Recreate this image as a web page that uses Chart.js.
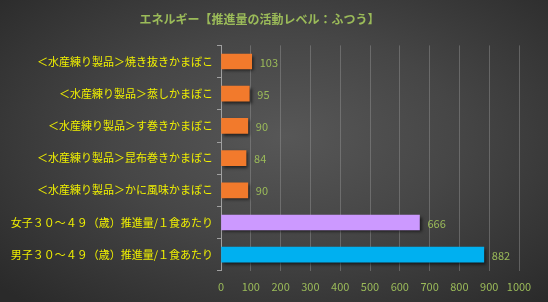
<!DOCTYPE html>
<html>
<head>
<meta charset="utf-8">
<script src="https://cdn.jsdelivr.net/npm/chart.js@4"></script>
<style>
    html, body { margin: 0; padding: 0; }
    body {
        width: 548px;
        height: 302px;
        overflow: hidden;
        background: radial-gradient(ellipse 70% 75% at 52% 45%, #575757 0%, #464646 45%, #2a2a2a 100%);
    }
    #wrap { position: relative; width: 548px; height: 302px; }
</style>
</head>
<body>
<div id="wrap"><canvas id="energyChart"></canvas></div>
<script>
const chartTitle = 'エネルギー【推進量の活動レベル：ふつう】';
const categories = [
    '＜水産練り製品＞焼き抜きかまぼこ',
    '＜水産練り製品＞蒸しかまぼこ',
    '＜水産練り製品＞す巻きかまぼこ',
    '＜水産練り製品＞昆布巻きかまぼこ',
    '＜水産練り製品＞かに風味かまぼこ',
    '女子３０～４９（歳）推進量/１食あたり',
    '男子３０～４９（歳）推進量/１食あたり'
];
const energyValues = [103, 95, 90, 84, 90, 666, 882];
const barColors = ['#f27a2c', '#f27a2c', '#f27a2c', '#f27a2c', '#f27a2c', '#cc99ff', '#00b0f0'];
const xTicks = [0, 100, 200, 300, 400, 500, 600, 700, 800, 900, 1000];

const jpFont = '"Noto Sans CJK JP", "Noto Sans", sans-serif';

// shadow under the bars
const barShadow = {
    id: 'barShadow',
    beforeDatasetsDraw(chart) {
        const ctx = chart.ctx;
        ctx.save();
        ctx.shadowColor = 'rgba(0,0,0,0.6)';
        ctx.shadowBlur = 3;
        ctx.shadowOffsetX = 2;
        ctx.shadowOffsetY = 2;
    },
    afterDatasetsDraw(chart) {
        chart.ctx.restore();
    }
};

// value labels to the right of each bar
const valueLabels = {
    id: 'valueLabels',
    afterDatasetsDraw(chart) {
        const ctx = chart.ctx;
        const meta = chart.getDatasetMeta(0);
        ctx.save();
        ctx.font = '11px ' + jpFont;
        ctx.fillStyle = '#9bbb59';
        ctx.textAlign = 'left';
        ctx.textBaseline = 'middle';
        meta.data.forEach((bar, i) => {
            ctx.fillText(String(energyValues[i]), bar.x + 8, bar.y + 1);
        });
        ctx.restore();
    }
};

new Chart(document.getElementById('energyChart').getContext('2d'), {
    type: 'bar',
    data: {
        labels: categories,
        datasets: [{
            data: energyValues,
            backgroundColor: barColors,
            borderWidth: 0,
            barThickness: 15
        }]
    },
    options: {
        indexAxis: 'y',
        responsive: true,
        maintainAspectRatio: false,
        animation: false,
        layout: {
            padding: { left: 0, right: 29, top: 0, bottom: 0 }
        },
        plugins: {
            legend: { display: false },
            tooltip: { enabled: false },
            title: {
                display: true,
                text: chartTitle,
                color: '#9bbb59',
                font: { family: jpFont, size: 12, weight: 'bold' },
                padding: { top: 12, bottom: 19 }
            }
        },
        scales: {
            x: {
                min: 0,
                max: 1000,
                afterBuildTicks: scale => {
                    scale.ticks = xTicks.map(v => ({ value: v }));
                },
                grid: {
                    color: 'rgba(150,150,150,0.45)',
                    lineWidth: 1,
                    drawTicks: false
                },
                border: { display: false },
                ticks: {
                    color: '#9bbb59',
                    font: { family: jpFont, size: 11 },
                    padding: 9,
                    maxRotation: 0,
                    minRotation: 0,
                    autoSkip: false,
                    callback: value => String(value)
                }
            },
            y: {
                afterFit: scale => { scale.width = 221; },
                grid: {
                    offset: true,
                    drawOnChartArea: false,
                    color: '#a0a0a0',
                    tickLength: 4
                },
                border: { display: true, color: '#a0a0a0', width: 1 },
                ticks: {
                    color: '#f0f000',
                    font: { family: jpFont, size: 11 },
                    padding: 4
                }
            }
        }
    },
    plugins: [barShadow, valueLabels]
});
</script>
</body>
</html>
